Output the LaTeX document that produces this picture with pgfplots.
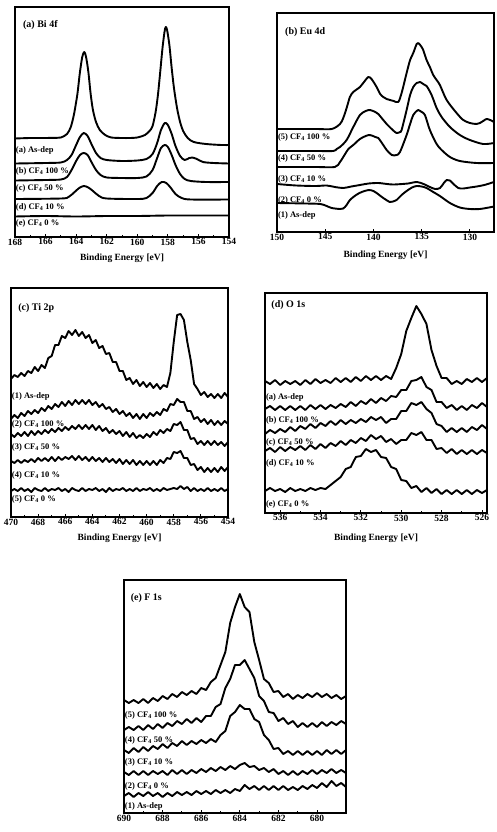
\documentclass[border=0pt]{standalone}
\usepackage{fontspec}
\setmainfont{Liberation Serif}
\usepackage{pgfplots}
\usepackage{pgfplotstable}
\pgfplotsset{compat=1.18}

% y values are pixel rows of the scanned figure (counted from the top)
\pgfplotstableread{
x c1 c2 c3 c4 c5
470 379 419 434 461 491
469.75 375 415 437 463 489
469.5 377 418 433 460 491
469.25 373 413 436 463 488
469 376 416 432 460 491
468.75 371 411 436 462 489
468.5 373 414 431 459 492
468.25 367 410 435 462 488
468 371 413 431 458 490
467.75 365 408 434 461 491
467.5 368 411 430 458 488
467.25 358 406 433 461 491
467 356 409 429 457 489
466.75 345 404 432 461 490
466.5 345 407 428 457 488
466.25 336 402 431 460 491
466 338 406 427 457 489
465.75 331 401 430 459 492
465.5 335 405 426 456 488
465.25 330 400 429 460 490
465 336 404 425 456 491
464.75 332 400 429 460 488
464.5 338 404 425 457 491
464.25 335 400 429 461 489
464 343 405 425 457 490
463.75 340 402 430 461 488
463.5 348 407 426 458 491
463.25 346 404 431 462 489
463 354 409 428 458 492
462.75 353 407 433 462 488
462.5 362 412 430 459 491
462.25 362 409 434 463 489
462 371 414 431 459 490
461.75 371 411 436 464 488
461.5 380 416 432 460 491
461.25 378 413 437 464 489
461 384 418 433 460 491
460.75 380 414 438 465 488
460.5 386 419 435 461 491
460.25 382 414 438 465 489
460 387 418 434 461 490
459.75 383 413 437 465 488
459.5 388 416 432 461 491
459.25 384 412 435 465 489
459 389 415 430 460 491
458.75 385 409 433 463 488
458.5 387 411 429 458 490
458.25 373 404 431 459 489
458 342 405 424 452 488
457.75 315 399 425 453 489
457.5 314 402 422 451 486
457.25 320 402 430 458 489
457 342 411 430 458 487
456.75 360 411 439 465 491
456.5 384 419 438 464 488
456.25 389 417 444 470 491
456 395 422 441 467 489
455.75 392 419 445 472 491
455.5 397 424 441 468 488
455.25 394 420 445 472 491
455 398 425 441 468 489
454.75 394 421 445 472 491
454.5 398 425 442 467 488
454.25 393 421 446 471 491
454 397 424 442 467 489
}\tiTwoP

\pgfplotstableread{
x d1 d2 d3 d4 d5
536.75 381 409 434 451 491
536.5 384 406 430 448 488
536.25 380 410 433 452 491
536 385 406 429 447 489
535.75 381 410 432 451 492
535.5 384 406 427 447 488
535.25 381 410 431 450 491
535 385 406 426 446 489
534.75 380 410 429 450 491
534.5 384 405 424 445 488
534.25 379 409 428 449 490
534 383 405 423 444 488
533.75 380 409 426 448 489
533.5 383 405 421 443 485
533.25 378 408 425 446 481
533 382 404 420 441 477
532.75 378 407 424 445 469
532.5 382 402 420 440 467
532.25 377 406 423 443 457
532 381 401 419 438 456
531.75 376 404 422 441 449
531.5 380 399 417 435 452
531.25 376 403 420 439 450
531 380 398 417 436 457
530.75 376 401 423 442 458
530.5 379 396 419 439 467
530.25 368 397 419 444 469
530 354 390 411 440 480
529.75 331 390 411 440 481
529.5 318 381 403 433 488
529.25 306 380 405 435 486
529 314 377 402 432 492
528.75 324 387 409 440 488
528.5 350 390 413 440 493
528.25 366 402 424 449 489
528 378 402 426 448 494
527.75 378 408 432 453 490
527.5 384 405 428 449 494
527.25 381 410 432 454 490
527 384 406 428 450 494
526.75 379 410 432 454 490
526.5 382 405 427 450 494
526.25 378 408 430 454 490
526 382 403 425 450 493
525.75 378 407 429 453 490
}\oOneS

\pgfplotstableread{
x e1 e2 e3 e4 e5
690 700 730 750 772 796
689.75 703 727 753 775 793
689.5 700 730 748 771 797
689.25 703 726 752 775 793
689 699 730 747 771 796
688.75 703 725 751 775 792
688.5 698 729 746 771 796
688.25 701 724 749 774 793
688 696 728 744 771 797
687.75 699 723 748 775 793
687.5 694 726 743 770 796
687.25 697 721 746 774 792
687 692 724 741 770 795
686.75 695 719 745 774 792
686.5 691 723 741 770 795
686.25 694 718 744 773 791
686 688 722 740 769 794
685.75 690 716 743 772 791
685.5 682 716 739 768 794
685.25 678 707 742 771 790
685 665 704 735 767 793
684.75 652 688 731 770 790
684.5 623 679 716 766 793
684.25 607 665 712 769 789
684 594 665 705 765 791
683.75 607 660 709 763 785
683.5 612 669 709 767 789
683.25 642 678 719 766 786
683 660 696 722 770 790
682.75 679 701 735 768 786
682.5 683 712 740 772 790
682.25 692 713 749 769 786
682 691 721 748 774 790
681.75 697 718 754 771 786
681.5 694 724 751 775 790
681.25 699 721 755 771 787
681 695 727 751 775 790
680.75 698 723 755 771 786
680.5 694 727 751 774 789
680.25 697 723 755 770 785
680 693 727 751 774 788
679.75 697 722 755 770 783
679.5 694 726 750 773 787
679.25 698 722 754 769 781
679 695 725 750 773 786
678.75 699 721 754 770 783
678.5 696 724 750 773 787
}\fOneS

\pgfplotsset{
  xps/.style={
    scale only axis, anchor=center,
    x dir=reverse, y dir=reverse,
    ytick=\empty, xtick pos=left,
    axis line style={line width=1.2pt},
    major tick length=3pt, minor tick length=2pt,
    tick style={line width=0.9pt, black},
    tick align=inside,
    xticklabel style={font=\bfseries\fontsize{9.5}{10}\selectfont, inner sep=1.5pt},
    /pgf/number format/assume math mode=true,
    /pgf/number format/1000 sep={},
    clip=false,
  },
  spec/.style={black, no markers, line width=1.9pt, line join=round},
}
\tikzset{
  lab/.style={anchor=west, inner sep=0.8pt, font=\bfseries\fontsize{8.5}{9}\selectfont},
  ttl/.style={anchor=west, inner sep=0pt, font=\bfseries\fontsize{10}{11}\selectfont},
  xl/.style={font=\bfseries\fontsize{9.5}{10}\selectfont},
}

\newcommand{\cf}{CF\textsubscript{4}}

\begin{document}
\begin{tikzpicture}
\path[use as bounding box] (0pt,0pt) rectangle (496pt,-832pt);

% (a) Bi 4f
\begin{axis}[xps, at={(122pt,-122pt)}, width=214pt, height=230pt,
  xmin=154, xmax=168, ymin=7, ymax=237,
  xtick={154,156,...,168}, minor x tick num=1]
\addplot[spec, smooth] coordinates {(168,138.5) (167,138) (166,138) (165.5,137.8) (165,137.5) (164.6,134) (164.35,127) (164.15,115) (164.0,102) (163.9,92) (163.75,72) (163.6,57) (163.47,52) (163.35,57) (163.2,72) (163.05,94) (162.9,110) (162.7,122) (162.45,130) (162.1,135) (161.7,137.5) (161,138) (160.5,138) (160,137.5) (159.5,135) (159.2,131) (159.0,126) (158.8,112) (158.65,95) (158.5,72) (158.35,48) (158.22,32) (158.14,27) (158.05,30) (157.9,45) (157.75,68) (157.6,88) (157.4,108) (157.2,122) (157.0,131) (156.7,138) (156.3,142) (155.5,144) (154.5,145) (154,145)};
\addplot[spec, smooth] coordinates {(168,163.5) (166,163) (165,162.5) (164.6,160) (164.3,155) (164.0,145) (163.75,137) (163.5,133) (163.25,136) (163.0,144) (162.7,153) (162.4,158) (162,160) (161,161) (160,160.5) (159.4,159) (159.0,154) (158.7,143) (158.45,130) (158.2,123) (158.0,125) (157.75,134) (157.5,146) (157.2,156) (156.9,160) (156.6,158) (156.4,157.5) (156.1,159) (155.7,162) (155,163) (154,163.5)};
\addplot[spec, smooth] coordinates {(168,180.5) (166,180) (165,179.5) (164.6,177) (164.3,170) (164.0,161) (163.75,155) (163.5,153) (163.25,155) (163.0,162) (162.7,170) (162.4,175) (162,177.5) (161,178) (160,178) (159.4,176.5) (159.0,170) (158.7,158) (158.45,148) (158.2,145) (158.0,147) (157.75,155) (157.5,165) (157.2,174) (156.9,179) (156.5,181) (155.5,182) (154,182)};
\addplot[spec, smooth] coordinates {(168,199) (165,198.5) (164.5,197) (164.1,192) (163.8,188) (163.5,186) (163.2,187.5) (162.9,191) (162.5,196) (162,198.5) (160,199) (159.4,198) (159.0,193) (158.7,186) (158.4,182) (158.1,183) (157.8,188) (157.5,194) (157.1,198) (156.5,199.5) (154,199.5)};
\addplot[spec, smooth] coordinates {(168,216.5) (166,216) (164,216.5) (162,216) (160,216) (158,215.5) (156,215.5) (154,215.5)};
\node[ttl] at (axis cs:167.48,25) {(a) Bi 4f};
\node[lab] at (axis cs:168,150) {(a) As-dep};
\node[lab] at (axis cs:168,171) {(b) \cf{} 100 \%};
\node[lab] at (axis cs:168,188) {(c) \cf{} 50 \%};
\node[lab] at (axis cs:168,207) {(d) \cf{} 10 \%};
\node[lab] at (axis cs:168,223) {(e) \cf{} 0 \%};
\node[xl] at (axis cs:161,258) {Binding Energy [eV]};
\end{axis}

% (b) Eu 4d
\begin{axis}[xps, at={(385.5pt,-122.5pt)}, width=217pt, height=219pt,
  xmin=127.5, xmax=150, ymin=13, ymax=232,
  xtick={130,135,...,150}]
\addplot[spec, smooth] coordinates {(150,129) (146,129) (144.33,129) (143.47,124) (143.13,118) (142.78,108) (142.44,97) (142.09,92) (141.4,87) (140.9,81) (140.53,77) (140.2,79) (139.67,87) (139.3,94) (138.98,97) (138.63,99) (138.29,100) (137.9,101) (137.43,102) (137.08,93) (136.56,73) (136.2,60) (135.87,53) (135.52,44) (135.35,43) (135.0,47) (134.84,50) (134.49,60) (134.15,67) (133.8,75) (133.45,80) (133.11,85) (132.41,100) (131.38,113) (130.69,120) (130,123) (129.31,124) (128.96,123) (128.62,121) (128.27,119) (127.9,120) (127.5,122)};
\addplot[spec, smooth] coordinates {(150,151) (146,151) (144.16,151) (143.81,149) (143.47,147) (142.78,140) (142.09,127) (141.4,115) (140.8,111) (140.36,110) (139.8,112) (139.5,114) (138.98,120) (138.63,124) (138.0,130) (137.6,133) (137.25,132) (137.08,130) (136.56,110) (136.2,95) (135.87,87) (135.52,83) (135.18,82) (134.84,84) (134.49,86) (133.97,95) (133.45,108) (132.93,117) (132.07,127) (131.04,135) (130.0,140) (128.62,144) (127.5,143)};
\addplot[spec, smooth] coordinates {(150,167) (146,167) (144.0,167) (143.47,162) (143.0,155) (142.6,149) (142.09,145) (141.4,139) (140.8,136) (140.36,135) (139.8,137) (139.5,138) (138.98,145) (138.63,150) (138.1,155) (137.6,155) (137.25,152) (136.56,135) (136.2,124) (135.87,115) (135.52,111) (135.35,110) (135.0,112) (134.66,115) (134.15,130) (133.45,144) (132.93,150) (132.07,157) (131.04,161) (129.31,163) (127.5,163)};
\addplot[spec, smooth] coordinates {(150,184) (148,185.5) (146,186) (144.85,185.5) (144,187) (143.13,188) (142.3,186.5) (141.4,185) (140.5,183.5) (139.5,183) (138.6,184) (137.95,184.5) (137,184) (136.4,183.5) (135.5,182) (134.8,184) (134.15,187) (133.6,189) (133.1,188) (132.7,183) (132.4,180) (132.07,180.5) (131.7,184) (131.2,188) (130.69,188.5) (130,187.5) (129.3,186.5) (128.5,185) (127.5,182)};
\addplot[spec, smooth] coordinates {(150,203) (147,203.5) (145.5,204) (144.85,206) (144.33,208) (143.47,209) (143.13,208.5) (142.78,205) (142.44,200) (141.8,195) (141.22,192) (140.5,190) (140.0,191) (139.67,193) (138.98,198) (138.3,202) (137.95,201.5) (137.6,200) (137.08,195) (136.56,191) (136.0,187.5) (135.52,186) (135.0,186.5) (134.49,188) (133.8,192) (133.11,196) (132.07,203) (131.04,207.5) (130,209) (128.96,209) (127.5,206.5)};
\node[ttl] at (axis cs:149.17,32) {(b) Eu 4d};
\node[lab] at (axis cs:150,137) {(5) \cf{} 100 \%};
\node[lab] at (axis cs:150,158) {(4) \cf{} 50 \%};
\node[lab] at (axis cs:150,179) {(3) \cf{} 10 \%};
\node[lab] at (axis cs:150,200) {(2) \cf{} 0 \%};
\node[lab] at (axis cs:150,215) {(1) As-dep};
\node[xl] at (axis cs:138.75,255) {Binding Energy [eV]};
\end{axis}

% (c) Ti 2p
\begin{axis}[xps, at={(119.5pt,-402.5pt)}, width=217pt, height=229pt,
  xmin=454, xmax=470, ymin=288, ymax=517,
  xtick={454,456,...,470}, minor x tick num=1]
\addplot[spec] table[x=x, y=c1] {\tiTwoP};
\addplot[spec] table[x=x, y=c2] {\tiTwoP};
\addplot[spec] table[x=x, y=c3] {\tiTwoP};
\addplot[spec] table[x=x, y=c4] {\tiTwoP};
\addplot[spec] table[x=x, y=c5] {\tiTwoP};
\node[ttl] at (axis cs:469.48,308) {(c) Ti 2p};
\node[lab] at (axis cs:470,396) {(1) As-dep};
\node[lab] at (axis cs:470,424) {(2) \cf{} 100 \%};
\node[lab] at (axis cs:470,447) {(3) \cf{} 50 \%};
\node[lab] at (axis cs:470,475) {(4) \cf{} 10 \%};
\node[lab] at (axis cs:470,499) {(5) \cf{} 0 \%};
\node[xl] at (axis cs:462,538) {Binding Energy [eV]};
\end{axis}

% (d) O 1s
\begin{axis}[xps, at={(376pt,-403pt)}, width=222pt, height=220pt,
  xmin=525.75, xmax=536.75, ymin=293, ymax=513,
  xtick={526,528,...,536}, minor x tick num=1]
\addplot[spec] table[x=x, y=d1] {\oOneS};
\addplot[spec] table[x=x, y=d2] {\oOneS};
\addplot[spec] table[x=x, y=d3] {\oOneS};
\addplot[spec] table[x=x, y=d4] {\oOneS};
\addplot[spec] table[x=x, y=d5] {\oOneS};
\node[ttl] at (axis cs:536.44,305) {(d) O 1s};
\node[lab] at (axis cs:536.75,397) {(a) As-dep};
\node[lab] at (axis cs:536.75,420) {(b) \cf{} 100 \%};
\node[lab] at (axis cs:536.75,442) {(c) \cf{} 50 \%};
\node[lab] at (axis cs:536.75,463) {(d) \cf{} 10 \%};
\node[lab] at (axis cs:536.75,504) {(e) \cf{} 0 \%};
\node[xl] at (axis cs:531.25,538) {Binding Energy [eV]};
\end{axis}

% (e) F 1s
\begin{axis}[xps, at={(235pt,-696.5pt)}, width=222pt, height=233pt,
  xmin=678.5, xmax=690, ymin=580, ymax=813,
  xtick={680,682,...,690}, minor x tick num=1]
\addplot[spec] table[x=x, y=e1] {\fOneS};
\addplot[spec] table[x=x, y=e2] {\fOneS};
\addplot[spec] table[x=x, y=e3] {\fOneS};
\addplot[spec] table[x=x, y=e4] {\fOneS};
\addplot[spec] table[x=x, y=e5] {\fOneS};
\node[ttl] at (axis cs:689.66,598) {(e) F 1s};
\node[lab] at (axis cs:690,715) {(5) \cf{} 100 \%};
\node[lab] at (axis cs:690,740) {(4) \cf{} 50 \%};
\node[lab] at (axis cs:690,762) {(3) \cf{} 10 \%};
\node[lab] at (axis cs:690,786) {(2) \cf{} 0 \%};
\node[lab] at (axis cs:690,806) {(1) As-dep};
\end{axis}
\end{tikzpicture}
\end{document}
